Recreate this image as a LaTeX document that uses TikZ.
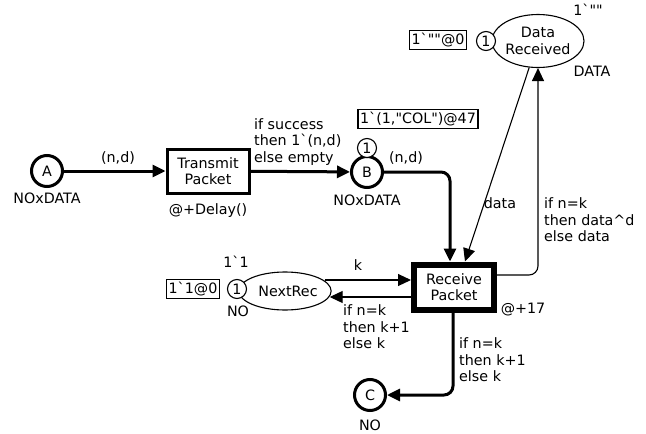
\documentclass[tikz,border=0pt]{standalone}
\usepackage{fontspec}
\newfontfamily\netfont{DejaVu Sans}
\usetikzlibrary{arrows.meta,shapes.geometric}
\tikzset{
  place/.style={circle,draw,line width=3pt,minimum size=31pt,inner sep=0pt},
  transbox/.style={rectangle,draw,line width=3pt,minimum width=82pt,minimum height=44pt,align=center,inner sep=0pt},
  token/.style={circle,draw,line width=1.1pt,minimum size=19pt,inner sep=0pt,fill=white},
  marking/.style={rectangle,draw,line width=1.1pt,inner xsep=2pt,inner ysep=2.5pt},
  thickarc/.style={line width=3pt,rounded corners=9pt,-{Triangle[length=13pt,width=12pt]}},
  thinarc/.style={line width=1.1pt,rounded corners=9pt,-{Triangle[length=13pt,width=12pt]}},
  lbl/.style={inner sep=0pt,align=left}
}
\begin{document}
\begin{tikzpicture}[x=1pt,y=-1pt,font=\netfont\fontsize{14.3}{16.5}\selectfont]
\useasboundingbox (0,0) rectangle (646,434);
% places
\node[place] (A) at (47,171) {A};
\node[place] (B) at (367,172) {B};
\node[place] (C) at (370,395) {C};
\node[ellipse,draw,line width=1.1pt,minimum width=90pt,minimum height=53pt,inner sep=0pt,align=center] (datarec) at (538,41) {Data\\Received};
\node[ellipse,draw,line width=1.1pt,minimum width=80pt,minimum height=38pt,inner sep=0pt] (nextrec) at (285,291) {\hspace{6pt}NextRec};
% transitions
\node[transbox] (send) at (208,171) {Transmit\\Packet};
\node[transbox,line width=6pt,minimum width=80pt,minimum height=45pt] (recv) at (454,287) {Receive\\Packet};
% tokens and markings
\node[token] (tokB) at (367,148) {1};
\node[token] (tokD) at (486,41) {1};
\node[token] (tokN) at (237,289) {1};
\node[marking] (markB) at (418,119) {1`(1,"COL")@47};
\node[marking] (markD) at (438,40) {1`""@0};
\node[marking] (markN) at (193,289) {1`1@0};
% colour sets and inscriptions
\node (typeA) at (47,198) {NOxDATA};
\node (typeB) at (367,200) {NOxDATA};
\node (typeC) at (370,425) {NO};
\node (typeN) at (238,311) {NO};
\node (typeD) at (592,71) {DATA};
\node (initD) at (588,10) {1`""};
\node (initN) at (236,262) {1`1};
\node (delay) at (208,211) {@+Delay()};
\node (rdelay) at (523,310) {@+17};
% arcs
\draw[thickarc] (A) -- (send);
\draw[thickarc] (send) -- (B);
\draw[thickarc] (B.east) -| ([xshift=-4pt]recv.north);
\draw[thinarc] (datarec) -- ([xshift=11pt]recv.north);
\draw[thinarc] ([yshift=12pt]recv.east) -| (datarec.south);
\draw[thinarc] ([xshift=-7pt,yshift=11pt]nextrec.east) -- ([yshift=7pt]recv.west);
\draw[thinarc] ([yshift=-10pt]recv.west) -- ([xshift=-2pt,yshift=-6pt]nextrec.east);
\draw[thickarc] ([xshift=-1pt]recv.south) |- (C);
% arc inscriptions
\node (inA) at (118,158) {(n,d)};
\node[lbl,anchor=west] (inS) at (254,142) {if success\\then 1`(n,d)\\else empty};
\node (inB) at (406,158) {(n,d)};
\node (inD) at (500,203) {data};
\node[lbl,anchor=west] (outD) at (544,220) {if n=k\\then data\textasciicircum d\\else data};
\node (inN) at (358,265) {k};
\node[lbl,anchor=west] (outN) at (343,327) {if n=k\\then k+1\\else k};
\node[lbl,anchor=west] (outC) at (459,360) {if n=k\\then k+1\\else k};
\end{tikzpicture}
\end{document}
